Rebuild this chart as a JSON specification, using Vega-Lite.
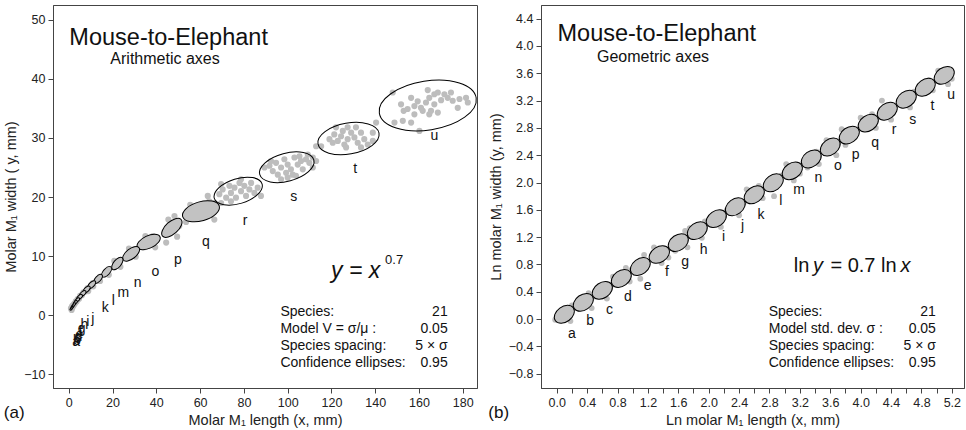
{
  "$schema": "https://vega.github.io/schema/vega-lite/v6.json",
  "padding": {"left": 3, "top": 4, "right": 0, "bottom": 0},
  "spacing": 8,
  "resolve": {"scale": {"size": "independent", "angle": "independent"}},
  "config": {
    "font": "Liberation Sans",
    "view": {"stroke": "#444", "strokeWidth": 1},
    "axis": {"grid": false, "domainColor": "#444", "tickColor": "#444", "tickSize": 5, "labelFontSize": 12.5, "labelColor": "#222", "titleFontSize": 14.5, "titleFontWeight": "normal", "titleColor": "#222", "labelPadding": 3, "titlePadding": 5},
    "title": {"fontSize": 17, "fontWeight": "normal", "color": "#111"}
  },
  "datasets": {
    "lell": [
      {"sp": "u", "x": 164, "y": 35.5, "len": 44.8, "tilt": 9},
      {"sp": "t", "x": 127.8, "y": 29.9, "len": 28.3, "tilt": 10},
      {"sp": "s", "x": 99.6, "y": 25.05, "len": 25.6, "tilt": 15},
      {"sp": "r", "x": 77.4, "y": 21.0, "len": 22.8, "tilt": 17},
      {"sp": "q", "x": 60.4, "y": 17.6, "len": 17.4, "tilt": 16},
      {"sp": "p", "x": 47.1, "y": 14.8, "len": 11.4, "tilt": 42},
      {"sp": "o", "x": 36.5, "y": 12.4, "len": 11.4, "tilt": 25},
      {"sp": "n", "x": 28.5, "y": 10.4, "len": 9.1, "tilt": 38},
      {"sp": "m", "x": 22.2, "y": 8.76, "len": 6.9, "tilt": 50},
      {"sp": "l", "x": 17.3, "y": 7.36, "len": 5.9, "tilt": 48},
      {"sp": "k", "x": 13.46, "y": 6.17, "len": 5.0, "tilt": 46},
      {"sp": "j", "x": 10.49, "y": 5.18, "len": 4.6, "tilt": 45},
      {"sp": "i", "x": 8.17, "y": 4.35, "len": 4.1, "tilt": 44},
      {"sp": "h", "x": 6.36, "y": 3.65, "len": 3.7, "tilt": 43},
      {"sp": "g", "x": 4.95, "y": 3.07, "len": 3.2, "tilt": 42},
      {"sp": "f", "x": 3.86, "y": 2.57, "len": 2.7, "tilt": 42},
      {"sp": "e", "x": 3.0, "y": 2.16, "len": 2.3, "tilt": 42},
      {"sp": "d", "x": 2.34, "y": 1.81, "len": 2.1, "tilt": 42},
      {"sp": "c", "x": 1.82, "y": 1.52, "len": 1.8, "tilt": 42},
      {"sp": "b", "x": 1.42, "y": 1.28, "len": 1.6, "tilt": 42},
      {"sp": "a", "x": 1.1, "y": 1.07, "len": 1.4, "tilt": 42}
    ],
    "llab": [
      {"sp": "u", "x": 167, "y": 30.3}, {"sp": "t", "x": 130.8, "y": 24.7}, {"sp": "s", "x": 102.8, "y": 20.0},
      {"sp": "r", "x": 80.5, "y": 15.9}, {"sp": "q", "x": 62.7, "y": 12.4}, {"sp": "p", "x": 49.8, "y": 9.4},
      {"sp": "o", "x": 39.6, "y": 7.3}, {"sp": "n", "x": 31.5, "y": 5.4}, {"sp": "m", "x": 24.9, "y": 3.7},
      {"sp": "l", "x": 20.4, "y": 2.5}, {"sp": "k", "x": 16.7, "y": 1.2}, {"sp": "j", "x": 11.0, "y": -0.6},
      {"sp": "i", "x": 8.7, "y": -1.1}, {"sp": "h", "x": 7.1, "y": -1.6}, {"sp": "g", "x": 5.9, "y": -2.3},
      {"sp": "f", "x": 5.3, "y": -2.9}, {"sp": "e", "x": 4.8, "y": -3.3}, {"sp": "d", "x": 4.4, "y": -3.7},
      {"sp": "c", "x": 4.0, "y": -4.0}, {"sp": "b", "x": 3.7, "y": -4.3}, {"sp": "a", "x": 3.4, "y": -4.6}
    ],
    "lpts": [
      {"x": 148.0, "y": 37.7}, {"x": 151.8, "y": 35.7}, {"x": 153.0, "y": 34.6}, {"x": 156.4, "y": 36.8}, {"x": 157.9, "y": 35.4},
      {"x": 159.4, "y": 36.2}, {"x": 160.9, "y": 35.1}, {"x": 163.2, "y": 36.0}, {"x": 164.0, "y": 38.1}, {"x": 164.7, "y": 36.8},
      {"x": 167.0, "y": 37.4}, {"x": 168.6, "y": 37.7}, {"x": 170.1, "y": 36.4}, {"x": 171.6, "y": 37.4}, {"x": 173.1, "y": 36.8},
      {"x": 174.6, "y": 37.7}, {"x": 175.4, "y": 36.3}, {"x": 177.7, "y": 35.1}, {"x": 178.5, "y": 36.6}, {"x": 181.5, "y": 36.8},
      {"x": 182.3, "y": 36.0}, {"x": 164.7, "y": 34.0}, {"x": 156.4, "y": 32.6}, {"x": 152.6, "y": 32.9}, {"x": 160.2, "y": 31.2},
      {"x": 148.8, "y": 32.6}, {"x": 140.4, "y": 32.6}, {"x": 168.6, "y": 34.3}, {"x": 165.5, "y": 34.6}, {"x": 161.7, "y": 34.6},
      {"x": 157.9, "y": 34.0}, {"x": 167.0, "y": 35.7}, {"x": 154.8, "y": 34.9},
      {"x": 115.3, "y": 28.6}, {"x": 119.1, "y": 29.8}, {"x": 121.3, "y": 30.6}, {"x": 122.9, "y": 29.5}, {"x": 124.4, "y": 30.3},
      {"x": 125.9, "y": 28.9}, {"x": 127.4, "y": 31.8}, {"x": 126.7, "y": 28.4}, {"x": 129.0, "y": 30.9}, {"x": 130.5, "y": 30.1},
      {"x": 132.0, "y": 29.2}, {"x": 133.5, "y": 30.9}, {"x": 135.0, "y": 29.8}, {"x": 136.6, "y": 28.9}, {"x": 138.9, "y": 30.9},
      {"x": 138.9, "y": 29.5}, {"x": 122.1, "y": 31.8}, {"x": 125.2, "y": 31.2}, {"x": 131.2, "y": 31.8}, {"x": 133.5, "y": 28.4},
      {"x": 127.4, "y": 29.8}, {"x": 120.6, "y": 29.2}, {"x": 113.0, "y": 28.6},
      {"x": 89.4, "y": 25.0}, {"x": 91.7, "y": 25.3}, {"x": 93.2, "y": 24.4}, {"x": 94.7, "y": 25.8}, {"x": 95.5, "y": 23.8},
      {"x": 97.0, "y": 25.0}, {"x": 98.5, "y": 26.4}, {"x": 99.3, "y": 24.1}, {"x": 100.0, "y": 25.5}, {"x": 101.5, "y": 24.7},
      {"x": 103.1, "y": 26.7}, {"x": 103.8, "y": 23.6}, {"x": 104.6, "y": 25.5}, {"x": 106.1, "y": 26.1}, {"x": 106.9, "y": 24.7},
      {"x": 108.4, "y": 26.4}, {"x": 109.9, "y": 25.8}, {"x": 111.5, "y": 25.0}, {"x": 113.0, "y": 26.1}, {"x": 92.4, "y": 26.1},
      {"x": 97.0, "y": 23.0}, {"x": 100.0, "y": 23.3}, {"x": 102.3, "y": 23.8}, {"x": 105.4, "y": 26.9}, {"x": 109.2, "y": 27.2},
      {"x": 111.5, "y": 26.7},
      {"x": 68.8, "y": 20.5}, {"x": 70.3, "y": 21.3}, {"x": 71.9, "y": 19.9}, {"x": 73.4, "y": 21.9}, {"x": 74.1, "y": 20.7},
      {"x": 75.7, "y": 21.6}, {"x": 76.4, "y": 19.9}, {"x": 78.0, "y": 22.4}, {"x": 78.7, "y": 21.0}, {"x": 80.2, "y": 21.9},
      {"x": 81.0, "y": 20.2}, {"x": 82.5, "y": 21.3}, {"x": 83.3, "y": 22.4}, {"x": 84.8, "y": 20.7}, {"x": 86.3, "y": 21.6},
      {"x": 87.8, "y": 20.2}, {"x": 69.6, "y": 22.2}, {"x": 78.7, "y": 23.0}, {"x": 74.1, "y": 19.3}, {"x": 64.2, "y": 19.3},
      {"x": 66.5, "y": 19.0},
      {"x": 63.5, "y": 20.2}, {"x": 53.6, "y": 15.8}, {"x": 69.6, "y": 19.0}, {"x": 55.5, "y": 18.7}, {"x": 66.5, "y": 16.2},
      {"x": 44.5, "y": 12.3}, {"x": 48.3, "y": 16.8}, {"x": 50.5, "y": 15.1}, {"x": 45.5, "y": 16.2}, {"x": 49.5, "y": 13.3},
      {"x": 38.5, "y": 13.4}, {"x": 34.3, "y": 11.5}, {"x": 39.5, "y": 11.5}, {"x": 35.0, "y": 13.4},
      {"x": 30.0, "y": 11.2}, {"x": 26.8, "y": 9.7}, {"x": 30.6, "y": 9.9}, {"x": 27.5, "y": 11.3},
      {"x": 23.4, "y": 9.3}, {"x": 21.0, "y": 8.2}, {"x": 23.6, "y": 8.2}, {"x": 20.8, "y": 9.2},
      {"x": 18.2, "y": 7.8}, {"x": 16.3, "y": 6.9}, {"x": 18.3, "y": 6.85},
      {"x": 14.2, "y": 6.5}, {"x": 12.7, "y": 5.8}, {"x": 14.3, "y": 5.8},
      {"x": 11.0, "y": 5.45}, {"x": 10.0, "y": 4.9}, {"x": 11.2, "y": 4.9},
      {"x": 8.6, "y": 4.6}, {"x": 7.8, "y": 4.05}, {"x": 8.9, "y": 4.1},
      {"x": 6.7, "y": 3.9}, {"x": 6.0, "y": 3.4},
      {"x": 5.2, "y": 3.3}, {"x": 4.7, "y": 2.8},
      {"x": 4.1, "y": 2.75}, {"x": 3.6, "y": 2.35},
      {"x": 3.2, "y": 2.35}, {"x": 2.8, "y": 2.0},
      {"x": 2.5, "y": 1.95}, {"x": 2.2, "y": 1.65},
      {"x": 1.9, "y": 1.7}, {"x": 1.7, "y": 1.35},
      {"x": 1.5, "y": 1.5}, {"x": 1.3, "y": 1.1},
      {"x": 1.0, "y": 1.2}, {"x": 1.3, "y": 0.9}
    ],
    "lnotes": [
      {"role": "title", "x": 0.27, "y": 45.7, "text": "Mouse-to-Elephant"},
      {"role": "sub", "x": 19.0, "y": 42.5, "text": "Arithmetic axes"},
      {"role": "eqi", "x": 119.8, "y": 6.3, "text": "y = x"},
      {"role": "sup", "x": 144.5, "y": 8.6, "text": "0.7"},
      {"role": "tl", "x": 96.7, "y": -0.17, "text": "Species:"},
      {"role": "tl", "x": 96.7, "y": -3.0, "text": "Model V = σ/μ :"},
      {"role": "tl", "x": 96.7, "y": -5.82, "text": "Species spacing:"},
      {"role": "tl", "x": 96.7, "y": -8.76, "text": "Confidence ellipses:"},
      {"role": "tr", "x": 173.1, "y": -0.17, "text": "21"},
      {"role": "tr", "x": 173.1, "y": -3.0, "text": "0.05"},
      {"role": "tr", "x": 173.1, "y": -5.82, "text": "5 × σ"},
      {"role": "tr", "x": 173.1, "y": -8.76, "text": "0.95"}
    ],
    "rell": [
      {"sp": "a", "x": 0.1, "y": 0.07, "len": 0.29, "tilt": 36},
      {"sp": "b", "x": 0.35, "y": 0.245, "len": 0.29, "tilt": 35},
      {"sp": "c", "x": 0.6, "y": 0.42, "len": 0.29, "tilt": 34},
      {"sp": "d", "x": 0.85, "y": 0.595, "len": 0.29, "tilt": 36},
      {"sp": "e", "x": 1.1, "y": 0.77, "len": 0.29, "tilt": 37},
      {"sp": "f", "x": 1.35, "y": 0.945, "len": 0.29, "tilt": 33},
      {"sp": "g", "x": 1.6, "y": 1.12, "len": 0.29, "tilt": 35},
      {"sp": "h", "x": 1.85, "y": 1.295, "len": 0.29, "tilt": 36},
      {"sp": "i", "x": 2.1, "y": 1.47, "len": 0.29, "tilt": 34},
      {"sp": "j", "x": 2.35, "y": 1.645, "len": 0.29, "tilt": 37},
      {"sp": "k", "x": 2.6, "y": 1.82, "len": 0.29, "tilt": 35},
      {"sp": "l", "x": 2.85, "y": 1.995, "len": 0.29, "tilt": 36},
      {"sp": "m", "x": 3.1, "y": 2.17, "len": 0.29, "tilt": 34},
      {"sp": "n", "x": 3.35, "y": 2.345, "len": 0.29, "tilt": 36},
      {"sp": "o", "x": 3.6, "y": 2.52, "len": 0.29, "tilt": 37},
      {"sp": "p", "x": 3.85, "y": 2.695, "len": 0.29, "tilt": 35},
      {"sp": "q", "x": 4.1, "y": 2.87, "len": 0.29, "tilt": 34},
      {"sp": "r", "x": 4.35, "y": 3.045, "len": 0.29, "tilt": 36},
      {"sp": "s", "x": 4.6, "y": 3.22, "len": 0.29, "tilt": 35},
      {"sp": "t", "x": 4.85, "y": 3.395, "len": 0.29, "tilt": 36},
      {"sp": "u", "x": 5.1, "y": 3.57, "len": 0.29, "tilt": 35}
    ],
    "rlab": [
      {"sp": "a", "x": 0.198, "y": -0.22}, {"sp": "b", "x": 0.44, "y": -0.034}, {"sp": "c", "x": 0.694, "y": 0.137},
      {"sp": "d", "x": 0.935, "y": 0.318}, {"sp": "e", "x": 1.195, "y": 0.489}, {"sp": "f", "x": 1.45, "y": 0.684},
      {"sp": "g", "x": 1.69, "y": 0.83}, {"sp": "h", "x": 1.933, "y": 1.016}, {"sp": "i", "x": 2.196, "y": 1.197},
      {"sp": "j", "x": 2.447, "y": 1.358}, {"sp": "k", "x": 2.688, "y": 1.529}, {"sp": "l", "x": 2.95, "y": 1.724},
      {"sp": "m", "x": 3.19, "y": 1.895}, {"sp": "n", "x": 3.444, "y": 2.065}, {"sp": "o", "x": 3.7, "y": 2.237},
      {"sp": "p", "x": 3.935, "y": 2.408}, {"sp": "q", "x": 4.19, "y": 2.578}, {"sp": "r", "x": 4.44, "y": 2.764},
      {"sp": "s", "x": 4.686, "y": 2.92}, {"sp": "t", "x": 4.946, "y": 3.116}, {"sp": "u", "x": 5.19, "y": 3.287}
    ],
    "rpts": [
      {"x": -0.02, "y": -0.01}, {"x": 0.2, "y": 0.2}, {"x": 0.18, "y": -0.03},
      {"x": 0.46, "y": 0.16}, {"x": 0.42, "y": 0.38}, {"x": 0.22, "y": 0.17},
      {"x": 0.72, "y": 0.5}, {"x": 0.5, "y": 0.33}, {"x": 0.66, "y": 0.3},
      {"x": 0.74, "y": 0.62}, {"x": 0.96, "y": 0.55}, {"x": 0.91, "y": 0.75},
      {"x": 1.15, "y": 0.94}, {"x": 1.1, "y": 0.59}, {"x": 0.98, "y": 0.72},
      {"x": 1.47, "y": 0.9}, {"x": 1.28, "y": 1.05}, {"x": 1.38, "y": 0.82},
      {"x": 1.69, "y": 1.29}, {"x": 1.56, "y": 1.0}, {"x": 1.72, "y": 1.05},
      {"x": 1.91, "y": 1.19}, {"x": 1.75, "y": 1.33}, {"x": 1.95, "y": 1.43},
      {"x": 2.2, "y": 1.56}, {"x": 2.0, "y": 1.4}, {"x": 2.16, "y": 1.35},
      {"x": 2.46, "y": 1.7}, {"x": 2.24, "y": 1.6}, {"x": 2.4, "y": 1.52},
      {"x": 2.71, "y": 1.77}, {"x": 2.5, "y": 1.9}, {"x": 2.66, "y": 1.95},
      {"x": 2.86, "y": 1.8}, {"x": 2.95, "y": 2.1}, {"x": 2.75, "y": 1.95},
      {"x": 3.2, "y": 2.13}, {"x": 3.02, "y": 2.27}, {"x": 3.12, "y": 2.03},
      {"x": 3.42, "y": 2.45}, {"x": 3.3, "y": 2.22}, {"x": 3.45, "y": 2.27},
      {"x": 3.55, "y": 2.62}, {"x": 3.68, "y": 2.4}, {"x": 3.7, "y": 2.58},
      {"x": 3.8, "y": 2.55}, {"x": 3.95, "y": 2.75}, {"x": 3.75, "y": 2.78},
      {"x": 4.0, "y": 2.95}, {"x": 4.2, "y": 2.8}, {"x": 4.15, "y": 3.0},
      {"x": 4.28, "y": 3.2}, {"x": 4.45, "y": 3.1}, {"x": 4.4, "y": 2.92},
      {"x": 4.7, "y": 3.33}, {"x": 4.52, "y": 3.15}, {"x": 4.65, "y": 3.1},
      {"x": 4.78, "y": 3.42}, {"x": 4.95, "y": 3.35}, {"x": 4.9, "y": 3.5},
      {"x": 5.02, "y": 3.64}, {"x": 5.2, "y": 3.52}, {"x": 5.15, "y": 3.44}
    ],
    "rnotes": [
      {"role": "title", "x": 0.01, "y": 4.07, "text": "Mouse-to-Elephant"},
      {"role": "sub", "x": 0.53, "y": 3.765, "text": "Geometric axes"},
      {"role": "eq", "x": 3.119, "y": 0.684, "text": "ln"},
      {"role": "eqi", "x": 3.373, "y": 0.684, "text": "y"},
      {"role": "eq", "x": 3.602, "y": 0.684, "text": "= 0.7 ln"},
      {"role": "eqi", "x": 4.524, "y": 0.684, "text": "x"},
      {"role": "tl", "x": 2.79, "y": 0.04, "text": "Species:"},
      {"role": "tl", "x": 2.79, "y": -0.205, "text": "Model std. dev. σ :"},
      {"role": "tl", "x": 2.79, "y": -0.448, "text": "Species spacing:"},
      {"role": "tl", "x": 2.79, "y": -0.703, "text": "Confidence ellipses:"},
      {"role": "tr", "x": 4.99, "y": 0.04, "text": "21"},
      {"role": "tr", "x": 4.99, "y": -0.205, "text": "0.05"},
      {"role": "tr", "x": 4.99, "y": -0.448, "text": "5 × σ"},
      {"role": "tr", "x": 4.99, "y": -0.703, "text": "0.95"}
    ]
  },
  "hconcat": [
    {
      "width": 424,
      "height": 383,
      "title": {"text": "(a)", "orient": "bottom", "anchor": "start", "frame": "bounds", "offset": -22},
      "encoding": {
        "x": {"field": "x", "type": "quantitative", "scale": {"domain": [-7.2, 186.5], "nice": false, "zero": false}, "axis": {"values": [0, 20, 40, 60, 80, 100, 120, 140, 160, 180], "title": "Molar M₁ length (x, mm)"}},
        "y": {"field": "y", "type": "quantitative", "scale": {"domain": [-12.3, 52.5], "nice": false, "zero": false}, "axis": {"values": [-10, 0, 10, 20, 30, 40, 50], "title": "Molar M₁ width ( y, mm)"}}
      },
      "layer": [
        {"data": {"name": "lpts"}, "mark": {"type": "point", "shape": "circle", "filled": true, "color": "#bdbdbd", "opacity": 1, "size": 38}},
        {
          "data": {"name": "lell"},
          "mark": {"type": "point", "shape": "M -1 0 A 1 0.5 0 1 0 1 0 A 1 0.5 0 1 0 -1 0 Z", "filled": true, "stroke": "#000", "strokeWidth": 1, "opacity": 1},
          "encoding": {
            "size": {"field": "len", "type": "quantitative", "scale": {"type": "pow", "exponent": 2, "domain": [0, 50], "range": [0, 11979]}, "legend": null},
            "angle": {"field": "tilt", "type": "quantitative", "scale": {"domain": [0, 90], "range": [0, -90]}},
            "fill": {"condition": {"test": "datum.x < 70", "value": "#c2c2c2"}, "value": "transparent"}
          }
        },
        {"data": {"name": "llab"}, "mark": {"type": "text", "fontSize": 14, "color": "#111", "baseline": "middle", "align": "center"}, "encoding": {"text": {"field": "sp"}}},
        {"data": {"name": "lnotes"}, "transform": [{"filter": "datum.role == 'title'"}], "mark": {"type": "text", "fontSize": 23.5, "align": "left", "baseline": "alphabetic", "color": "#111"}, "encoding": {"text": {"field": "text"}}},
        {"data": {"name": "lnotes"}, "transform": [{"filter": "datum.role == 'sub'"}], "mark": {"type": "text", "fontSize": 16, "align": "left", "baseline": "alphabetic", "color": "#111"}, "encoding": {"text": {"field": "text"}}},
        {"data": {"name": "lnotes"}, "transform": [{"filter": "datum.role == 'eqi'"}], "mark": {"type": "text", "fontSize": 23, "fontStyle": "italic", "align": "left", "baseline": "alphabetic", "color": "#111"}, "encoding": {"text": {"field": "text"}}},
        {"data": {"name": "lnotes"}, "transform": [{"filter": "datum.role == 'sup'"}], "mark": {"type": "text", "fontSize": 13, "align": "left", "baseline": "alphabetic", "color": "#111"}, "encoding": {"text": {"field": "text"}}},
        {"data": {"name": "lnotes"}, "transform": [{"filter": "datum.role == 'tl'"}], "mark": {"type": "text", "fontSize": 14, "align": "left", "baseline": "alphabetic", "color": "#111"}, "encoding": {"text": {"field": "text"}}},
        {"data": {"name": "lnotes"}, "transform": [{"filter": "datum.role == 'tr'"}], "mark": {"type": "text", "fontSize": 14, "align": "right", "baseline": "alphabetic", "color": "#111"}, "encoding": {"text": {"field": "text"}}}
      ]
    },
    {
      "width": 423,
      "height": 383,
      "title": {"text": "(b)", "orient": "bottom", "anchor": "start", "frame": "bounds", "offset": -22},
      "encoding": {
        "x": {"field": "x", "type": "quantitative", "scale": {"domain": [-0.207, 5.36], "nice": false, "zero": false}, "axis": {"values": [0, 0.2, 0.4, 0.6, 0.8, 1.0, 1.2, 1.4, 1.6, 1.8, 2.0, 2.2, 2.4, 2.6, 2.8, 3.0, 3.2, 3.4, 3.6, 3.8, 4.0, 4.2, 4.4, 4.6, 4.8, 5.0, 5.2], "labelExpr": "round(datum.value * 10) % 4 == 0 ? format(datum.value, '.1f') : ''", "title": "Ln molar M₁ length (x, mm)"}},
        "y": {"field": "y", "type": "quantitative", "scale": {"domain": [-1.01, 4.6], "nice": false, "zero": false}, "axis": {"values": [-0.8, -0.4, 0, 0.4, 0.8, 1.2, 1.6, 2.0, 2.4, 2.8, 3.2, 3.6, 4.0, 4.4], "format": ".1f", "title": "Ln molar M₁ width (y, mm)"}}
      },
      "layer": [
        {"data": {"name": "rpts"}, "mark": {"type": "point", "shape": "circle", "filled": true, "color": "#bdbdbd", "opacity": 1, "size": 34}},
        {
          "data": {"name": "rell"},
          "mark": {"type": "point", "shape": "M -1 0 A 1 0.7 0 1 0 1 0 A 1 0.7 0 1 0 -1 0 Z", "filled": true, "fill": "#c2c2c2", "stroke": "#000", "strokeWidth": 1, "opacity": 1},
          "encoding": {
            "size": {"field": "len", "type": "quantitative", "scale": {"type": "pow", "exponent": 2, "domain": [0, 0.5], "range": [0, 1440]}, "legend": null},
            "angle": {"field": "tilt", "type": "quantitative", "scale": {"domain": [0, 90], "range": [0, -90]}}
          }
        },
        {"data": {"name": "rlab"}, "mark": {"type": "text", "fontSize": 14, "color": "#111", "baseline": "middle", "align": "center"}, "encoding": {"text": {"field": "sp"}}},
        {"data": {"name": "rnotes"}, "transform": [{"filter": "datum.role == 'title'"}], "mark": {"type": "text", "fontSize": 23.5, "align": "left", "baseline": "alphabetic", "color": "#111"}, "encoding": {"text": {"field": "text"}}},
        {"data": {"name": "rnotes"}, "transform": [{"filter": "datum.role == 'sub'"}], "mark": {"type": "text", "fontSize": 16, "align": "left", "baseline": "alphabetic", "color": "#111"}, "encoding": {"text": {"field": "text"}}},
        {"data": {"name": "rnotes"}, "transform": [{"filter": "datum.role == 'eq'"}], "mark": {"type": "text", "fontSize": 20, "align": "left", "baseline": "alphabetic", "color": "#111"}, "encoding": {"text": {"field": "text"}}},
        {"data": {"name": "rnotes"}, "transform": [{"filter": "datum.role == 'eqi'"}], "mark": {"type": "text", "fontSize": 20, "fontStyle": "italic", "align": "left", "baseline": "alphabetic", "color": "#111"}, "encoding": {"text": {"field": "text"}}},
        {"data": {"name": "rnotes"}, "transform": [{"filter": "datum.role == 'tl'"}], "mark": {"type": "text", "fontSize": 14, "align": "left", "baseline": "alphabetic", "color": "#111"}, "encoding": {"text": {"field": "text"}}},
        {"data": {"name": "rnotes"}, "transform": [{"filter": "datum.role == 'tr'"}], "mark": {"type": "text", "fontSize": 14, "align": "right", "baseline": "alphabetic", "color": "#111"}, "encoding": {"text": {"field": "text"}}}
      ]
    }
  ]
}
